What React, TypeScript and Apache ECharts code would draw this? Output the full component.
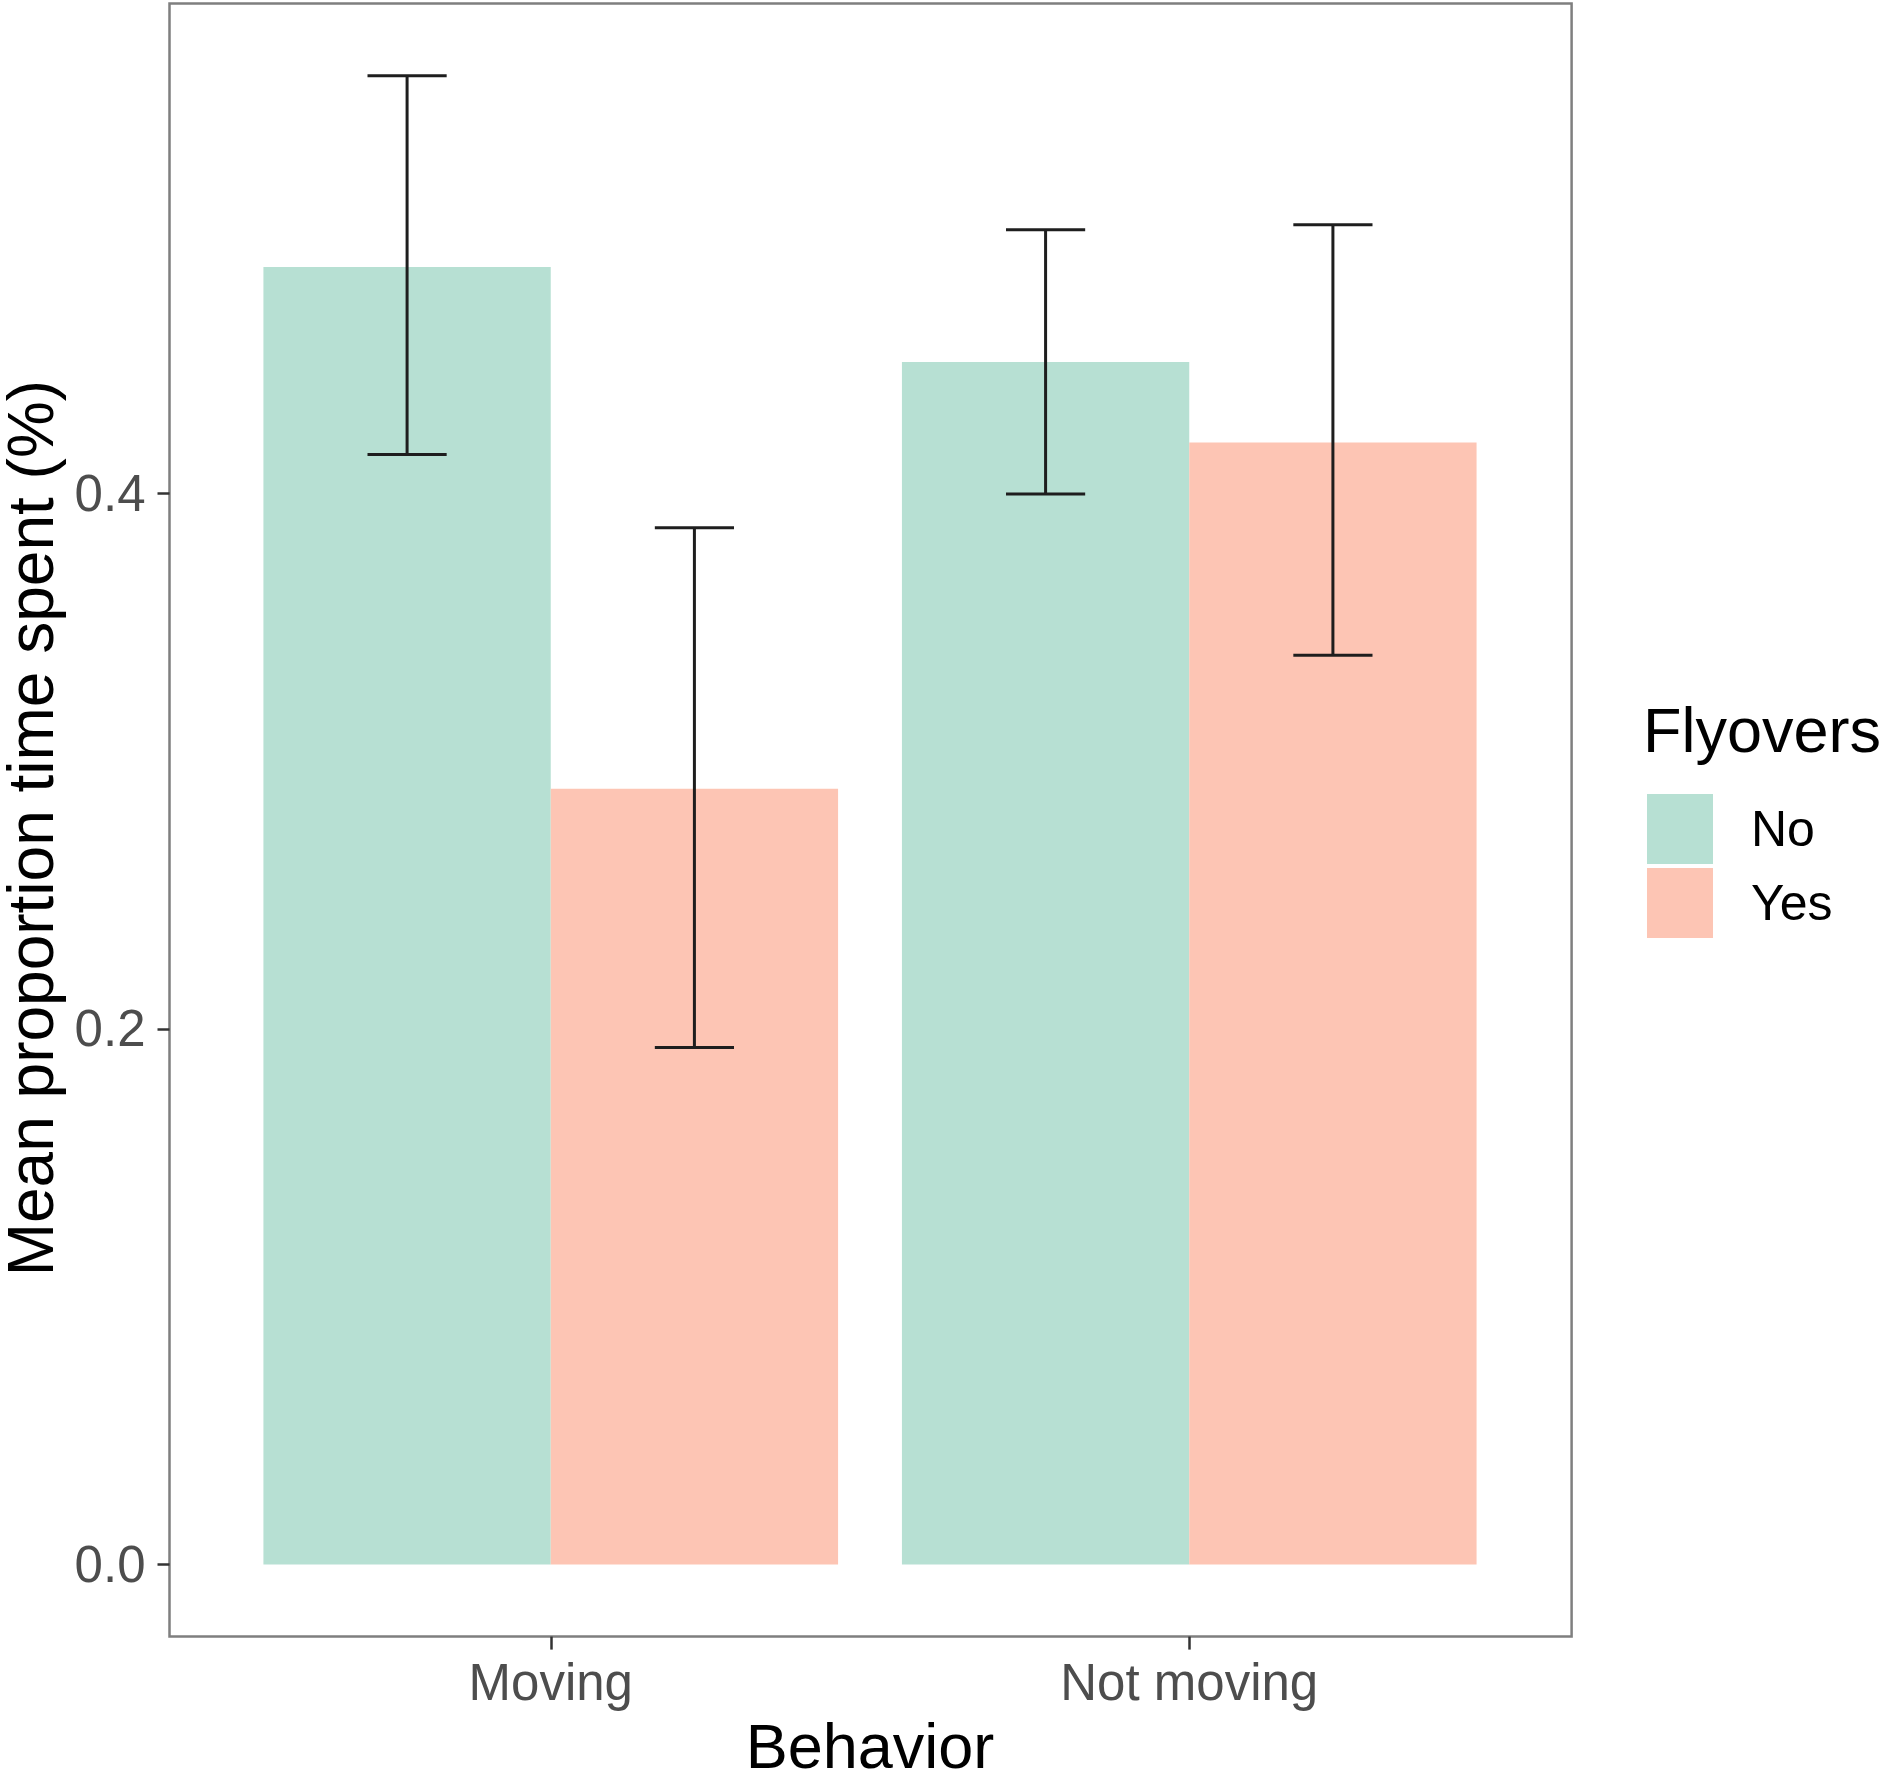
import React, { useEffect, useRef } from 'react';
import * as echarts from 'echarts';

const categories = ['Moving', 'Not moving'];
const groups = ['No', 'Yes'];
const meanNo = [0.4844, 0.4489];
const meanYes = [0.2896, 0.4189];
const lowNo = [0.4144, 0.3996];
const highNo = [0.5558, 0.4983];
const lowYes = [0.193, 0.3394];
const highYes = [0.387, 0.5001];
const yTicks = [0, 0.2, 0.4];

const colorNo = '#B7E0D3';
const colorYes = '#FDC5B4';
const FONT = '"Liberation Sans", Arial, Helvetica, sans-serif';

export default function App() {
  const ref = useRef<HTMLDivElement>(null);
  useEffect(() => {
    document.body.style.margin = '0';
    const chart = echarts.init(ref.current as HTMLDivElement, null, { renderer: 'svg' });

    const errSeries = (low: number[], high: number[], side: number) => ({
      type: 'custom',
      xAxisIndex: 0,
      yAxisIndex: 0,
      z: 10,
      silent: true,
      data: categories.map((c, i) => [i, low[i], high[i]]),
      renderItem: (params: any, api: any) => {
        const i = api.value(0);
        const band = api.size([1, 0])[0];
        const pLow = api.coord([i, api.value(1)]);
        const pHigh = api.coord([i, api.value(2)]);
        const x = pLow[0] + side * 0.225 * band;
        const hw = 0.062 * band;
        const style = { stroke: '#1e1e1e', lineWidth: 3, fill: null };
        return {
          type: 'group',
          children: [
            { type: 'line', shape: { x1: x, y1: pHigh[1], x2: x, y2: pLow[1] }, style },
            { type: 'line', shape: { x1: x - hw, y1: pHigh[1], x2: x + hw, y2: pHigh[1] }, style },
            { type: 'line', shape: { x1: x - hw, y1: pLow[1], x2: x + hw, y2: pLow[1] }, style },
          ],
        };
      },
    });

    chart.setOption({
      animation: false,
      backgroundColor: '#ffffff',
      textStyle: { fontFamily: FONT },
      title: {
        text: 'Flyovers',
        left: 1643,
        top: 698,
        padding: 0,
        textStyle: { fontSize: 63, fontWeight: 'normal', color: '#000000', fontFamily: FONT },
      },
      legend: {
        data: groups,
        orient: 'vertical',
        left: 1647,
        top: 794,
        padding: 0,
        itemWidth: 66,
        itemHeight: 70,
        itemGap: 4,
        icon: 'rect',
        selectedMode: false,
        textStyle: { fontSize: 50, color: '#000000', fontFamily: FONT, padding: [0, 0, 0, 33] },
      },
      grid: [
        { left: 231.5, right: 376.5, top: 3.6, bottom: 134.4, outerBoundsMode: 'none', containLabel: false },
        {
          left: 169.5,
          right: 313.4,
          top: 3.6,
          bottom: 134.4,
          show: true,
          borderColor: '#7f7f7f',
          borderWidth: 2.5,
          backgroundColor: 'transparent',
          outerBoundsMode: 'none',
          containLabel: false,
        },
      ],
      xAxis: [
        {
          type: 'category',
          gridIndex: 0,
          data: categories,
          axisLine: { show: false, onZero: false },
          axisTick: { show: true, alignWithLabel: true, length: 13, lineStyle: { color: '#333333', width: 2.5 } },
          axisLabel: { fontSize: 51, color: '#4d4d4d', margin: 20, fontFamily: FONT },
          splitLine: { show: false },
          name: 'Behavior',
          nameLocation: 'middle',
          nameGap: 89,
          nameTextStyle: { fontSize: 63, color: '#000000', fontFamily: FONT, lineHeight: 40 },
        },
        { type: 'value', gridIndex: 1, show: false },
      ],
      yAxis: [
        {
          type: 'value',
          gridIndex: 0,
          min: -0.0269,
          max: 0.5827,
          offset: 62,
          axisLine: { show: false },
          splitLine: { show: false },
          axisTick: { show: true, length: 12, customValues: yTicks, lineStyle: { color: '#333333', width: 2.5 } },
          axisLabel: {
            customValues: yTicks,
            formatter: (v: number) => v.toFixed(1),
            fontSize: 51,
            color: '#4d4d4d',
            margin: 24,
            fontFamily: FONT,
          },
          name: 'Mean proportion time spent (%)',
          nameLocation: 'middle',
          nameGap: 107,
          nameTextStyle: { fontSize: 64, color: '#000000', fontFamily: FONT, padding: [0, 16, 0, 0] },
        },
        { type: 'value', gridIndex: 1, show: false },
      ],
      series: [
        {
          name: 'No',
          type: 'bar',
          xAxisIndex: 0,
          yAxisIndex: 0,
          data: meanNo,
          barWidth: '45%',
          barGap: '0%',
          itemStyle: { color: colorNo },
        },
        {
          name: 'Yes',
          type: 'bar',
          xAxisIndex: 0,
          yAxisIndex: 0,
          data: meanYes,
          barWidth: '45%',
          barGap: '0%',
          itemStyle: { color: colorYes },
        },
        errSeries(lowNo, highNo, -1),
        errSeries(lowYes, highYes, 1),
      ],
    });
    return () => chart.dispose();
  }, []);
  return <div ref={ref} style={{ width: 1885, height: 1771 }} />;
}
